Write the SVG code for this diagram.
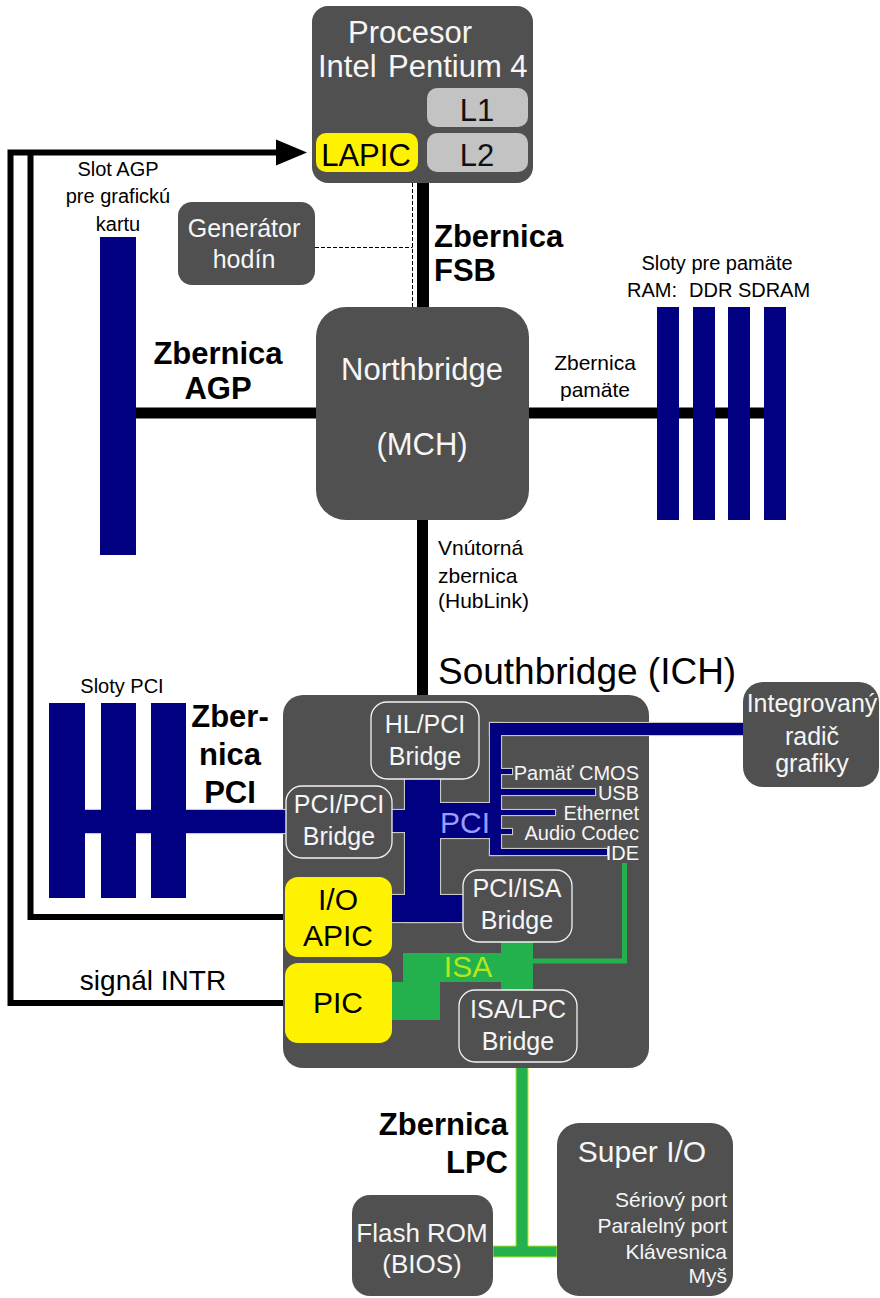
<svg xmlns="http://www.w3.org/2000/svg" xmlns:xlink="http://www.w3.org/1999/xlink" width="880" height="1298" viewBox="0 0 880 1298">
<style>
.t{font-family:'Liberation Sans',Arial,sans-serif}
.box{fill:#505050}
.br{fill:#505050;stroke:#f2f2f2;stroke-width:1.3}
.w{fill:#f6f6f6}
.k{fill:#000}
.bd{font-weight:bold}
.navy{fill:#000080}
.ln{fill:none;stroke:#000}
.yel{fill:#fff200}
.c{text-anchor:middle}
.r{text-anchor:end}
</style>
<defs>
<g id="pcitree">
<rect x="85" y="810" width="202" height="23"/>
<rect x="390" y="810" width="16" height="22"/>
<rect x="405" y="779" width="35" height="143"/>
<rect x="390" y="895" width="75" height="27"/>
<rect x="439" y="803" width="52" height="35"/>
<rect x="490" y="723" width="11" height="132"/>
<rect x="490" y="723" width="255" height="12"/>
<rect x="500" y="769" width="12" height="5"/>
<rect x="500" y="789" width="95" height="6"/>
<rect x="500" y="810" width="55" height="5"/>
<rect x="500" y="829" width="12" height="5"/>
<rect x="490" y="849" width="117" height="6"/>
</g>
</defs>
<rect width="880" height="1298" fill="#fff"/>

<g id="connectors">
<line class="ln" x1="423" y1="183" x2="423" y2="308" stroke-width="12"/>
<path class="ln" d="M315 247.5H412.5M412.5 183V308" stroke-width="1" stroke="#111" stroke-dasharray="4 2"/>
<line class="ln" x1="136" y1="413" x2="317" y2="413" stroke-width="11"/>
<line class="ln" x1="528" y1="413" x2="765" y2="413" stroke-width="11"/>
<line class="ln" x1="422.5" y1="519" x2="422.5" y2="703" stroke-width="11"/>
<path class="ln" d="M10.5 1003H286M10.5 1006V152.5H280M30.5 152.5V917H286" stroke-width="6"/>
<polygon points="276,139.5 307,152.5 276,165.5" fill="#000"/>
<path d="M516 1062V1246H493V1257H557V1246H528V1062Z" fill="#22b14c" stroke="#b5e61d" stroke-width="1"/>
</g>

<g id="agp-slot"><rect class="navy" x="100" y="237" width="36" height="318"/></g>
<g id="ram-slots">
<rect class="navy" x="657" y="307" width="22" height="213"/>
<rect class="navy" x="693" y="307" width="22" height="213"/>
<rect class="navy" x="728" y="307" width="22" height="213"/>
<rect class="navy" x="764" y="307" width="22" height="213"/>
</g>

<g id="processor">
<rect class="box" x="312" y="6" width="221" height="177" rx="16"/>
<text class="t w" font-size="31" x="410" y="43" text-anchor="middle">Procesor</text>
<text class="t w" font-size="31" y="77"><tspan x="318">Intel</tspan><tspan x="388">Pentium 4</tspan></text>
<g id="l1"><rect x="427" y="88" width="101" height="39" rx="10" fill="#c3c3c3"/><text class="t c" font-size="31" x="477" y="121" fill="#111">L1</text></g>
<g id="l2"><rect x="427" y="133" width="101" height="39" rx="10" fill="#c3c3c3"/><text class="t c" font-size="31" x="477" y="166" fill="#111">L2</text></g>
<g id="lapic"><rect class="yel" x="316" y="133" width="102" height="39" rx="10"/><text class="t c k" font-size="31" x="366" y="166">LAPIC</text></g>
</g>

<g id="generator">
<rect class="box" x="178" y="202" width="137" height="83" rx="14"/>
<text class="t w c" font-size="25" x="244" y="237">Generátor</text>
<text class="t w c" font-size="25" x="244" y="268">hodín</text>
</g>

<g id="northbridge">
<rect class="box" x="316" y="307" width="213" height="213" rx="30"/>
<text class="t w c" font-size="31" x="422" y="380">Northbridge</text>
<text class="t w c" font-size="31" x="422" y="455">(MCH)</text>
</g>

<g id="southbridge">
<rect class="box" x="283" y="695" width="366" height="373" rx="20"/>
<use xlink:href="#pcitree" fill="#000080" stroke="#c8c8c8" stroke-width="2.2"/>
<use xlink:href="#pcitree" fill="#000080"/>
<polygon fill="#22b14c" points="403,953 501,953 501,942 533,942 533,990 501,990 501,982 440,982 440,1020 392,1020 392,982 403,982"/>
<path d="M624.5 863V961H533" fill="none" stroke="#22b14c" stroke-width="5"/>
<text class="t c" font-size="30" x="465" y="833" fill="#9c9cff">PCI</text>
<text class="t c" font-size="30" x="468" y="977" fill="#b5e61d">ISA</text>
<g class="t w r" font-size="20">
<text x="639" y="780">Pamäť CMOS</text>
<text x="639" y="800">USB</text>
<text x="639" y="820">Ethernet</text>
<text x="639" y="840">Audio Codec</text>
<text x="639" y="860">IDE</text>
</g>
<g id="hl-pci"><rect class="br" x="371" y="702" width="108" height="77" rx="16"/><text class="t w c" font-size="25" x="425" y="733">HL/PCI</text><text class="t w c" font-size="25" x="425" y="765">Bridge</text></g>
<g id="pci-pci"><rect class="br" x="286" y="786" width="106" height="72" rx="16"/><text class="t w c" font-size="25" x="339" y="813">PCI/PCI</text><text class="t w c" font-size="25" x="339" y="845">Bridge</text></g>
<g id="pci-isa"><rect class="br" x="463" y="870" width="109" height="72" rx="16"/><text class="t w c" font-size="25" x="517" y="897">PCI/ISA</text><text class="t w c" font-size="25" x="517" y="929">Bridge</text></g>
<g id="isa-lpc"><rect class="br" x="459" y="990" width="118" height="72" rx="16"/><text class="t w c" font-size="25" x="518" y="1018">ISA/LPC</text><text class="t w c" font-size="25" x="518" y="1050">Bridge</text></g>
<g id="io-apic"><rect class="yel" x="285" y="877" width="107" height="80" rx="13"/><text class="t c k" font-size="30" x="338" y="910">I/O</text><text class="t c k" font-size="30" x="338" y="946">APIC</text></g>
<g id="pic"><rect class="yel" x="285" y="963" width="107" height="80" rx="13"/><text class="t c k" font-size="30" x="338" y="1013">PIC</text></g>
</g>

<g id="pci-slots">
<rect class="navy" x="49" y="703" width="36" height="195"/>
<rect class="navy" x="101" y="703" width="35" height="195"/>
<rect class="navy" x="151" y="703" width="35" height="195"/>
</g>

<g id="integrated-graphics">
<rect class="box" x="743" y="682" width="136" height="105" rx="20"/>
<text class="t w c" font-size="25" x="812" y="712">Integrovaný</text>
<text class="t w c" font-size="25" x="812" y="745">radič</text>
<text class="t w c" font-size="25" x="812" y="772">grafiky</text>
</g>

<g id="flash-rom">
<rect class="box" x="352" y="1195" width="141" height="101" rx="18"/>
<text class="t w c" font-size="26" x="422" y="1242">Flash ROM</text>
<text class="t w c" font-size="26" x="422" y="1273">(BIOS)</text>
</g>

<g id="super-io">
<rect class="box" x="557" y="1123" width="176" height="173" rx="22"/>
<text class="t w c" font-size="30" x="642" y="1162">Super I/O</text>
<g class="t w r" font-size="21">
<text x="727" y="1207">Sériový port</text>
<text x="727" y="1233">Paralelný port</text>
<text x="727" y="1259">Klávesnica</text>
<text x="727" y="1283">Myš</text>
</g>
</g>

<g id="labels" class="t k">
<text class="c" font-size="20" x="118" y="176">Slot AGP</text>
<text class="c" font-size="20" x="118" y="203">pre grafickú</text>
<text class="c" font-size="20" x="118" y="231">kartu</text>
<text class="bd" font-size="31" x="434" y="247">Zbernica</text>
<text class="bd" font-size="31" x="434" y="281">FSB</text>
<text class="bd c" font-size="31" x="218" y="364">Zbernica</text>
<text class="bd c" font-size="31" x="218" y="399">AGP</text>
<text class="c" font-size="20" x="717" y="270">Sloty pre pamäte</text>
<text font-size="20" y="297"><tspan x="627">RAM:</tspan><tspan x="689">DDR SDRAM</tspan></text>
<text class="c" font-size="21" x="595" y="370">Zbernica</text>
<text class="c" font-size="21" x="595" y="397">pamäte</text>
<text font-size="21" x="438" y="555">Vnútorná</text>
<text font-size="21" x="438" y="583">zbernica</text>
<text font-size="21" x="438" y="608">(HubLink)</text>
<text font-size="37" x="438" y="684">Southbridge (ICH)</text>
<text class="c" font-size="20" x="122" y="693">Sloty PCI</text>
<text class="bd c" font-size="31" x="230" y="727">Zber-</text>
<text class="bd c" font-size="31" x="230" y="765">nica</text>
<text class="bd c" font-size="31" x="230" y="803">PCI</text>
<text class="c" font-size="28" x="153" y="990">signál INTR</text>
<text class="bd r" font-size="31" x="508" y="1135">Zbernica</text>
<text class="bd r" font-size="31" x="508" y="1173">LPC</text>
</g>
</svg>
